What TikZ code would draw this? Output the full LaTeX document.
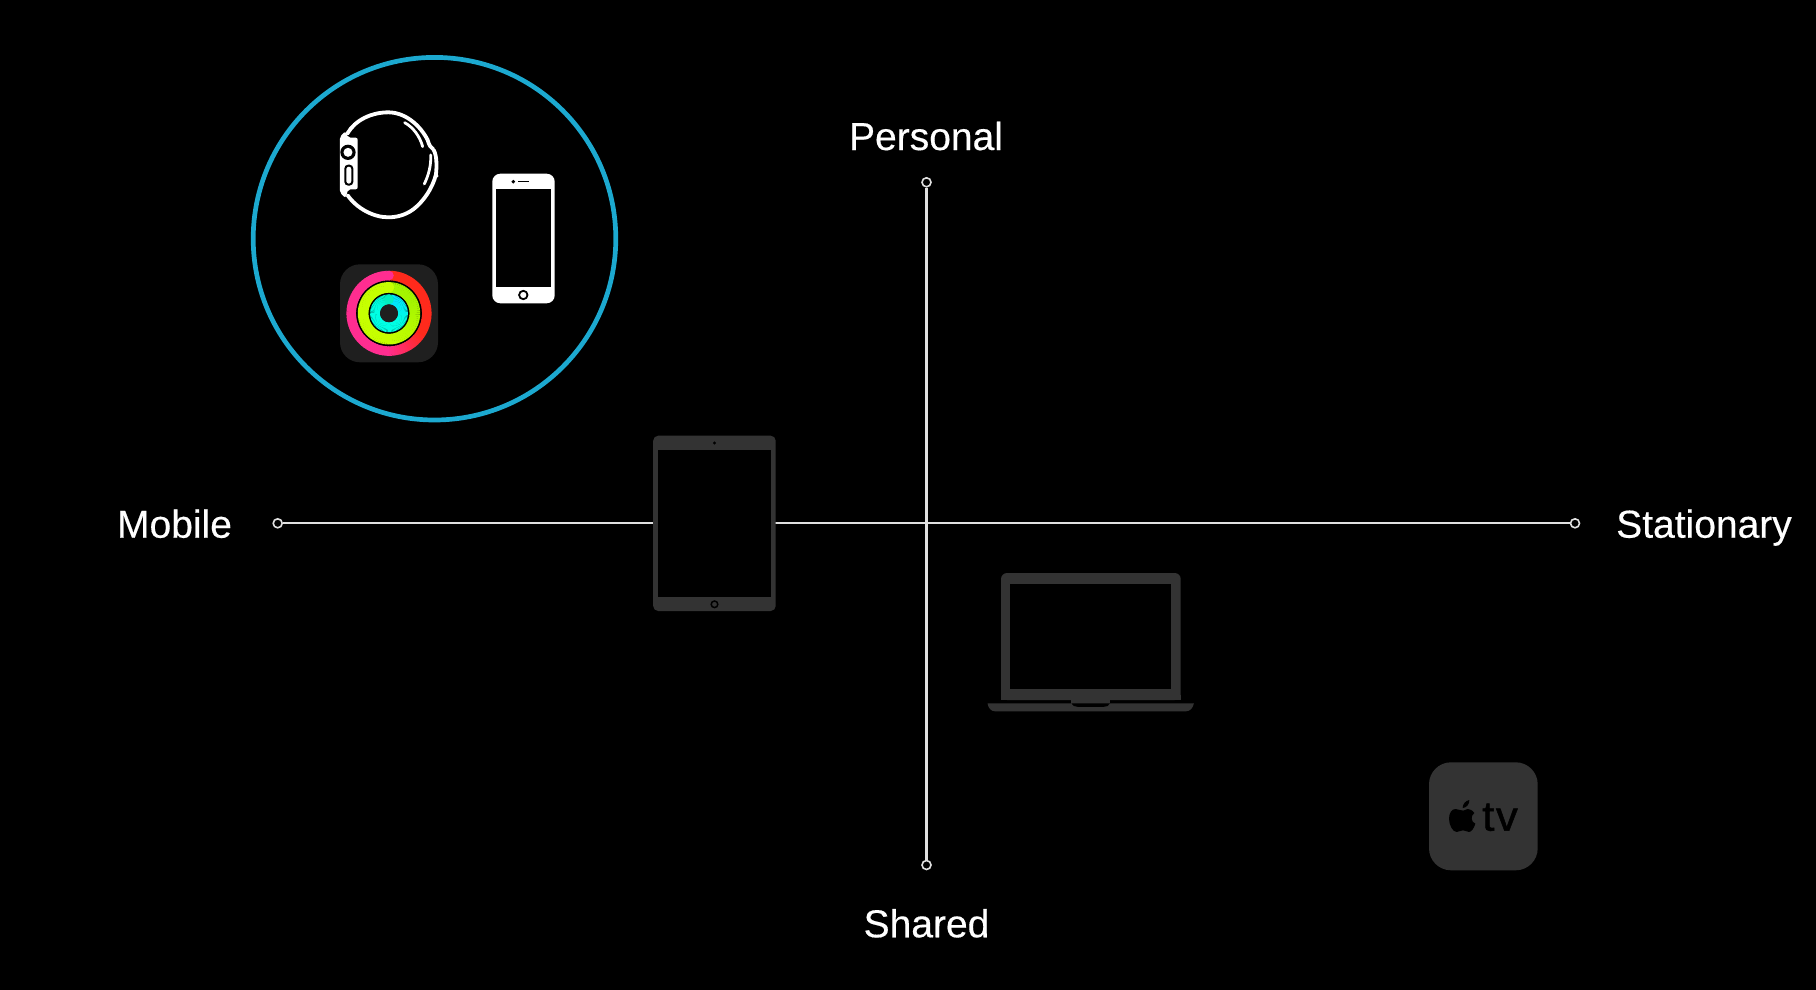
\documentclass[tikz,border=0pt]{standalone}
\usepackage{fontspec}
\setmainfont[FakeStretch=1.0,FakeBold=0.35]{Liberation Sans}
\newfontfamily\tvfont[FakeBold=1.2,FakeStretch=1.04,LetterSpace=4]{Liberation Sans}
\definecolor{dev}{HTML}{333333}
\definecolor{ringblue}{HTML}{1CA9D0}
\definecolor{axisline}{HTML}{E0E0E0}
\definecolor{iconbg}{HTML}{1F1F1F}
\definecolor{rred}{HTML}{FF2A1C}
\definecolor{rpink}{HTML}{FF2D90}
\definecolor{ggreen}{HTML}{A4F500}
\definecolor{glime}{HTML}{C6FF00}
\definecolor{cblue}{HTML}{00E4FF}
\definecolor{cmint}{HTML}{00FFE4}
\definecolor{cteal}{HTML}{00EFC0}
\tikzset{
  x=1pt,y=-1pt,
  axisdot/.style={circle,draw=axisline,fill=black,line width=1.6pt,minimum size=9pt,inner sep=0pt},
  axisrule/.style={draw=axisline,line width=2.2pt},
  axislabel/.style={text=white,anchor=base,inner sep=0pt,font=\fontsize{39}{39}\selectfont},
  whiteline/.style={draw=white,line width=3.8pt,line cap=round,line join=round},
  thinwhite/.style={draw=white,line width=2.8pt,line cap=round}
}
\begin{document}
\begin{tikzpicture}
\path[use as bounding box,fill=black] (0,0) rectangle (1816,990);
% axes
\node[axisdot] (mob) at (277.7,523.3) {};
\node[axisdot] (sta) at (1575,523.3) {};
\node[axisdot] (per) at (926.5,182.3) {};
\node[axisdot] (sha) at (926.5,865) {};
\draw[axisrule] (mob) -- (sta);
\draw[axisrule] (per) -- (sha);
% labels
\node[axislabel] (lper) at (926,150) {Personal};
\node[axislabel] (lsha) at (926.5,937.3) {Shared};
\node[axislabel] (lmob) at (174.5,537.7) {Mobile};
\node[axislabel] (lsta) at (1704,537.7) {Stationary};
% big circle
\draw[ringblue,line width=4.7pt] (434.5,238.7) circle[radius=181.3];
% iPad
\fill[dev,rounded corners=5pt] (653.2,435.7) rectangle (775.7,611);
\fill[black] (657.9,449.7) rectangle (771.1,597);
\fill[black] (714.5,443) circle[radius=1.6];
\draw[black,line width=1.5pt] (714.5,604.3) circle[radius=3.3];
% laptop
\fill[dev,rounded corners=6pt] (1001,700) -- (1001,573) -- (1180.7,573) -- (1180.7,700) -- cycle;
\fill[dev] (1001,695) rectangle (1180.7,700);
\fill[black] (1010.4,584.3) rectangle (1171.1,689);
\fill[dev] (987.5,703.3) -- (1193.9,703.3) .. controls (1193,708) and (1190,711.3) .. (1186,711.3) -- (995,711.3) .. controls (991,711.3) and (988.2,708) .. (987.5,703.3) -- cycle;
\fill[dev] (1071.4,699) rectangle (1110,704);
\fill[black] (1071.4,703.3) .. controls (1072.6,706) and (1074.6,706.8) .. (1077.6,706.8) -- (1103.8,706.8) .. controls (1106.8,706.8) and (1108.8,706) .. (1110,703.3) -- cycle;
% apple tv
\fill[dev,rounded corners=22pt] (1429,762.3) rectangle (1537.7,870.3);
\begin{scope}[shift={(1400,740)},x=0.3333pt,y=-0.3333pt]
\fill[black] (190,212) .. controls (180,212) and (175,207) .. (166,207)
  .. controls (155,207) and (147,220) .. (147,236)
  .. controls (147,255) and (158,276) .. (170,276)
  .. controls (177,276) and (181,271) .. (189,271)
  .. controls (197,271) and (200,276) .. (207,276)
  .. controls (215,276) and (223,262) .. (226,251)
  .. controls (214,247) and (210,228) .. (223,219)
  .. controls (217,210) and (208,207) .. (203,207)
  .. controls (198,207) and (194,212) .. (190,212) -- cycle;
\fill[black] (188,204) .. controls (188,192) and (197,182) .. (208,180)
  .. controls (209,192) and (199,204) .. (188,204) -- cycle;
\end{scope}
\node[text=black,anchor=base,inner sep=0pt,font=\tvfont\fontsize{42}{42}\selectfont] (tv) at (1500,830.7) {tv};
% watch
\begin{scope}[shift={(240,40)},x=0.3333pt,y=-0.3333pt]
\fill[white,rounded corners=2pt] (300,290) -- (316,274) -- (325,293) -- (353,293) -- (353,448) -- (325,448) -- (316,474) -- (300,458) -- cycle;
\draw[whiteline] (322,281) .. controls (345,240) and (395,217) .. (445,217)
  .. controls (495,217) and (540,255) .. (563,300)
  .. controls (568,318) and (572,322) .. (580,328);
\draw[whiteline] (581,330) .. controls (590,345) and (591,375) .. (588,403)
  .. controls (578,445) and (550,485) .. (520,508)
  .. controls (497,525) and (470,532) .. (445,532)
  .. controls (400,532) and (350,505) .. (323,466);
\draw[thinwhite] (494,248) .. controls (520,262) and (540,290) .. (548,320);
\draw[thinwhite] (572,345) .. controls (574,375) and (566,405) .. (553,432);
\fill[white] (591,408) circle[radius=5];
\fill[black] (324,337) circle[radius=23];
\fill[white] (324,337) circle[radius=13.5];
\draw[black,line width=2pt,fill=white,rounded corners=3pt] (316,377) rectangle (337,434);
\end{scope}
% iPhone
\fill[white,rounded corners=8pt] (492.3,173.7) rectangle (554.7,303.3);
\fill[black] (495.7,189) rectangle (551,287.3);
\fill[black] (513.3,181.7) circle[radius=1.9];
\draw[black,line width=1.4pt] (518.3,181.7) -- (529,181.7);
\draw[black,line width=1.8pt] (523.3,295) circle[radius=4.2];
% activity icon
\fill[iconbg,rounded corners=20pt] (340,264.3) rectangle (438,362.3);
\fill[black] (389,313.3) circle[radius=33];
\foreach \a in {0,4,...,356}{
  \pgfmathsetmacro{\m}{\a<120?0:(\a>180?100:(\a-120)/60*100)}
  \draw[line width=9.5pt,rpink!\m!rred] ([shift={(389,313.3)}]90-\a:37.8pt) arc[start angle=90-\a,end angle=90-\a-5,radius=37.8pt];
  \pgfmathsetmacro{\m}{\a<60?0:(\a>180?100:(\a-60)/120*100)}
  \draw[line width=10.6pt,glime!\m!ggreen] ([shift={(389,313.3)}]90-\a:25.9pt) arc[start angle=90-\a,end angle=90-\a-5,radius=25.9pt];
  \pgfmathsetmacro{\m}{\a<20?0:(\a>130?100:(\a-20)/110*100)}
  \ifnum\a<300
    \draw[line width=9.9pt,cmint!\m!cblue] ([shift={(389,313.3)}]90-\a:13.9pt) arc[start angle=90-\a,end angle=90-\a-5,radius=13.9pt];
  \else
    \pgfmathsetmacro{\m}{(\a-300)/60*100}
    \draw[line width=9.9pt,cteal!\m!cmint] ([shift={(389,313.3)}]90-\a:13.9pt) arc[start angle=90-\a,end angle=90-\a-5,radius=13.9pt];
  \fi
}
\fill[rpink] (389,275.5) circle[radius=4.75];
\fill[glime] (389,287.4) circle[radius=5.3];
\fill[cteal] (389,299.4) circle[radius=4.95];
\fill[iconbg] (389,313.3) circle[radius=9];
\end{tikzpicture}
\end{document}
